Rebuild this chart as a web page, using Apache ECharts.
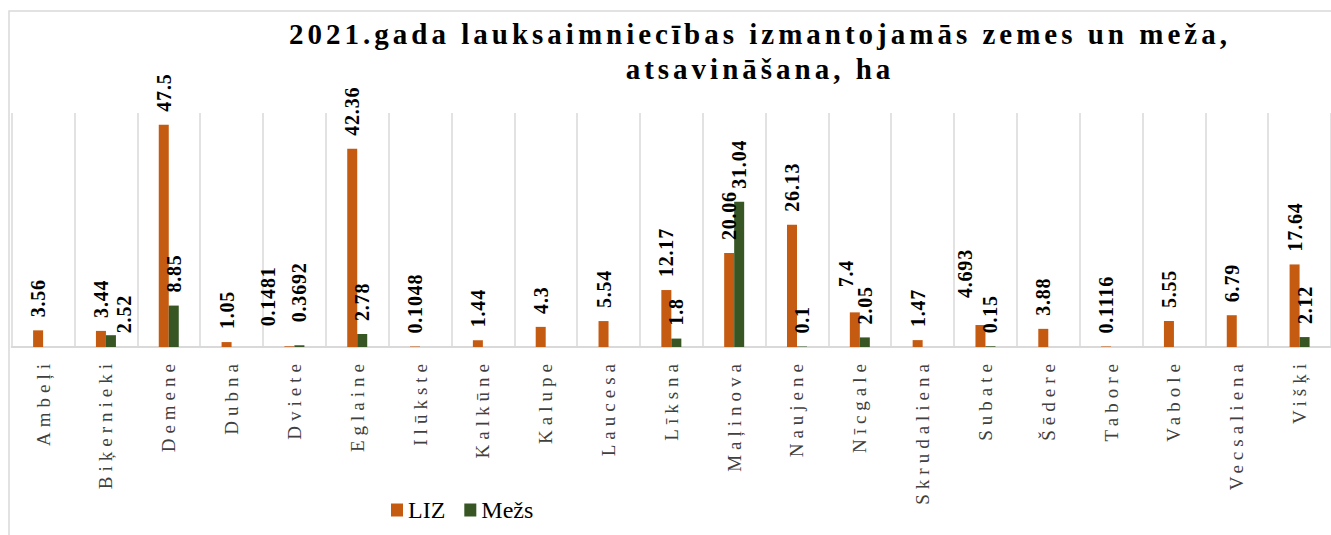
<!DOCTYPE html>
<html>
<head>
<meta charset="utf-8">
<title>2021.gada lauksaimniecības izmantojamās zemes un meža atsavināšana</title>
<script src="https://cdn.jsdelivr.net/npm/echarts@6/dist/echarts.min.js"></script>
<style>
  html, body { margin: 0; padding: 0; background: #fff; }
  #chart { width: 1331px; height: 535px; }
  /* Excel-like letter spacing, picked out by a marker font family */
  #chart text[style*="xcat"] { letter-spacing: 5px; }
  #chart text[style*="xttl"] { letter-spacing: 4px; }
  #chart text[style*="xval"] { letter-spacing: 0.8px; }
</style>
</head>
<body>
<div id="chart"></div>
<script>
// pagasti
const categories = [
  "Ambeļi", "Biķernieki", "Demene", "Dubna", "Dviete", "Eglaine", "Ilūkste",
  "Kalkūne", "Kalupe", "Laucesa", "Līksna", "Maļinova", "Naujene", "Nīcgale",
  "Skrudaliena", "Subate", "Šēdere", "Tabore", "Vabole", "Vecsaliena", "Višķi"
];
// LIZ, ha
const lizValues = [
  3.56, 3.44, 47.5, 1.05, 0.1481, 42.36, 0.1048,
  1.44, 4.3, 5.54, 12.17, 20.06, 26.13, 7.4,
  1.47, 4.693, 3.88, 0.1116, 5.55, 6.79, 17.64
];
// Mežs, ha
const mezsValues = [
  null, 2.52, 8.85, null, 0.3692, 2.78, null,
  null, null, null, 1.8, 31.04, 0.1, 2.05,
  null, 0.15, null, null, null, null, 2.12
];
const seriesNames = ["LIZ", "Mežs"];
const titleLines = ["2021.gada lauksaimniecības izmantojamās zemes un meža,", "atsavināšana, ha"];

// labels that were moved by hand in the original (screen px: right, down)
const labelNudge = {
  "Biķernieki": { mezs: [13, 11] },
  "Dviete": { liz: [-21, -7], mezs: [0, -10] },
  "Nīcgale": { liz: [-9, -12] },
  "Subate": { liz: [-15, -14] }
};

function buildData(values, key) {
  return values.map((v, i) => {
    if (v == null) return null;
    const n = labelNudge[categories[i]] && labelNudge[categories[i]][key];
    if (!n) return v;
    // label is turned 90deg, so offset is given in the turned frame
    return { value: v, label: { offset: [-n[1], n[0]] } };
  });
}

const myChart = echarts.init(document.getElementById("chart"), null, { renderer: "svg" });

const barLabel = {
  show: true,
  position: "top",
  distance: 13,
  rotate: 90,
  align: "left",
  verticalAlign: "middle",
  fontFamily: "'Liberation Serif', xval",
  fontWeight: "bold",
  fontSize: 20,
  color: "#000"
};

const option = {
  animation: false,
  backgroundColor: "#fff",
  title: {
    text: titleLines.join("\n"),
    left: 760,
    top: 16,
    padding: 0,
    textAlign: "center",
    textStyle: {
      fontFamily: "'Liberation Serif', xttl",
      fontWeight: "bold",
      fontSize: 29,
      lineHeight: 35,
      color: "#000"
    }
  },
  graphic: [
    {
      // outer chart frame
      type: "rect",
      z: -1,
      shape: { x: 9, y: 11, width: 1400, height: 600 },
      style: { fill: "none", stroke: "#d9d9d9", lineWidth: 1.5 }
    }
  ],
  legend: {
    data: seriesNames,
    left: 391,
    top: 498,
    padding: 0,
    icon: "rect",
    itemWidth: 12,
    itemHeight: 13,
    itemGap: 19,
    textStyle: {
      fontFamily: "'Liberation Serif'",
      fontSize: 24,
      color: "#000"
    }
  },
  grid: {
    left: 11.7,
    top: 113,
    width: 1329.3,
    height: 234
  },
  xAxis: {
    type: "category",
    data: categories,
    axisTick: { show: false },
    axisLine: { lineStyle: { color: "#d9d9d9", width: 2 } },
    axisLabel: {
      interval: 0,
      rotate: 90,
      margin: 12,
      fontFamily: "'Liberation Serif', xcat",
      fontSize: 19,
      color: "#404040"
    },
    splitLine: { show: true, lineStyle: { color: "#d9d9d9", width: 1.5 } }
  },
  yAxis: {
    type: "value",
    min: 0,
    max: 50,
    show: false
  },
  series: [
    {
      name: seriesNames[0],
      type: "bar",
      barWidth: 10,
      barGap: "0%",
      itemStyle: { color: "#c55a11" },
      label: barLabel,
      data: buildData(lizValues, "liz")
    },
    {
      name: seriesNames[1],
      type: "bar",
      barWidth: 10,
      barGap: "0%",
      itemStyle: { color: "#375623" },
      label: barLabel,
      data: buildData(mezsValues, "mezs")
    }
  ]
};

myChart.setOption(option);
</script>
</body>
</html>
